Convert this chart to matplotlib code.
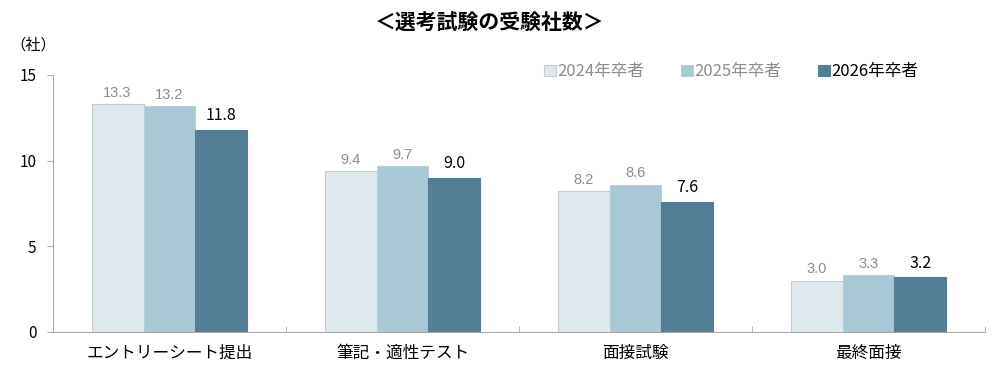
import matplotlib
matplotlib.use("Agg")
import matplotlib.pyplot as plt
import numpy as np

plt.rcParams['font.family'] = ['Noto Sans CJK JP', 'DejaVu Sans']

# data
categories = ['エントリーシート提出', '筆記・適性テスト', '面接試験', '最終面接']
series_names = ['2024年卒者', '2025年卒者', '2026年卒者']
v2024 = [13.3, 9.4, 8.2, 3.0]
v2025 = [13.2, 9.7, 8.6, 3.3]
v2026 = [11.8, 9.0, 7.6, 3.2]

colors = ['#DDE9EC', '#A9C8D5', '#547E95']
edges = ['#C3CCCF', '#B8CFD8', '#547E95']
label_colors = ['#8C8C8C', '#8C8C8C', 'black']

fig = plt.figure(figsize=(10, 3.73), dpi=100)
ax = fig.add_axes([0.053, 0.11, 0.932, 0.689])

x = np.arange(len(categories))
w = 0.223
for i, vals in enumerate([v2024, v2025, v2026]):
    pos = x + (i - 1) * w
    bars = ax.bar(pos, vals, w, color=colors[i], edgecolor=edges[i],
                  linewidth=0.8, label=series_names[i])
    for b, v in zip(bars, vals):
        if i == 2:
            ax.annotate(f'{v:.1f}', (b.get_x() + w / 2, v), xytext=(0, 4),
                        textcoords='offset points', ha='center', va='bottom',
                        fontsize=11.5, color='black')
        else:
            ax.annotate(f'{v:.1f}', (b.get_x() + w / 2, v), xytext=(0, 3),
                        textcoords='offset points', ha='center', va='bottom',
                        fontsize=10.5, color='#8C8C8C', family='Liberation Sans')

ax.set_xlim(-0.5, len(categories) - 0.5)
ax.set_ylim(0, 15)
ax.set_yticks([0, 5, 10, 15])
ax.set_xticks(x)
ax.set_xticklabels(categories, fontsize=12)
ax.set_xticks(np.arange(len(categories) + 1) - 0.5, minor=True)
ax.tick_params(axis='x', which='major', length=0, pad=9)
ax.tick_params(axis='x', which='minor', direction='in', length=4, color='#AAAAAA')
ax.tick_params(axis='y', length=4, color='#AAAAAA', labelsize=11, pad=8)
for s in ['top', 'right']:
    ax.spines[s].set_visible(False)
for s in ['left', 'bottom']:
    ax.spines[s].set_color('#AAAAAA')

ax.text(-0.021, 1.117, '（社）', transform=ax.transAxes, fontsize=11,
        ha='center', va='center')
fig.suptitle('＜選考試験の受験社数＞', x=0.49, y=0.965, fontsize=15,
             fontweight='bold')

leg = ax.legend(loc='center right', bbox_to_anchor=(0.945, 1.012), ncol=3,
                frameon=False, fontsize=12, handlelength=0.7,
                handleheight=0.7, handletextpad=0.1, columnspacing=2.2,
                labelcolor=label_colors)
for t in leg.get_texts()[:2]:
    t.set_color('#8C8C8C')

fig.savefig('out.png', dpi=100)
